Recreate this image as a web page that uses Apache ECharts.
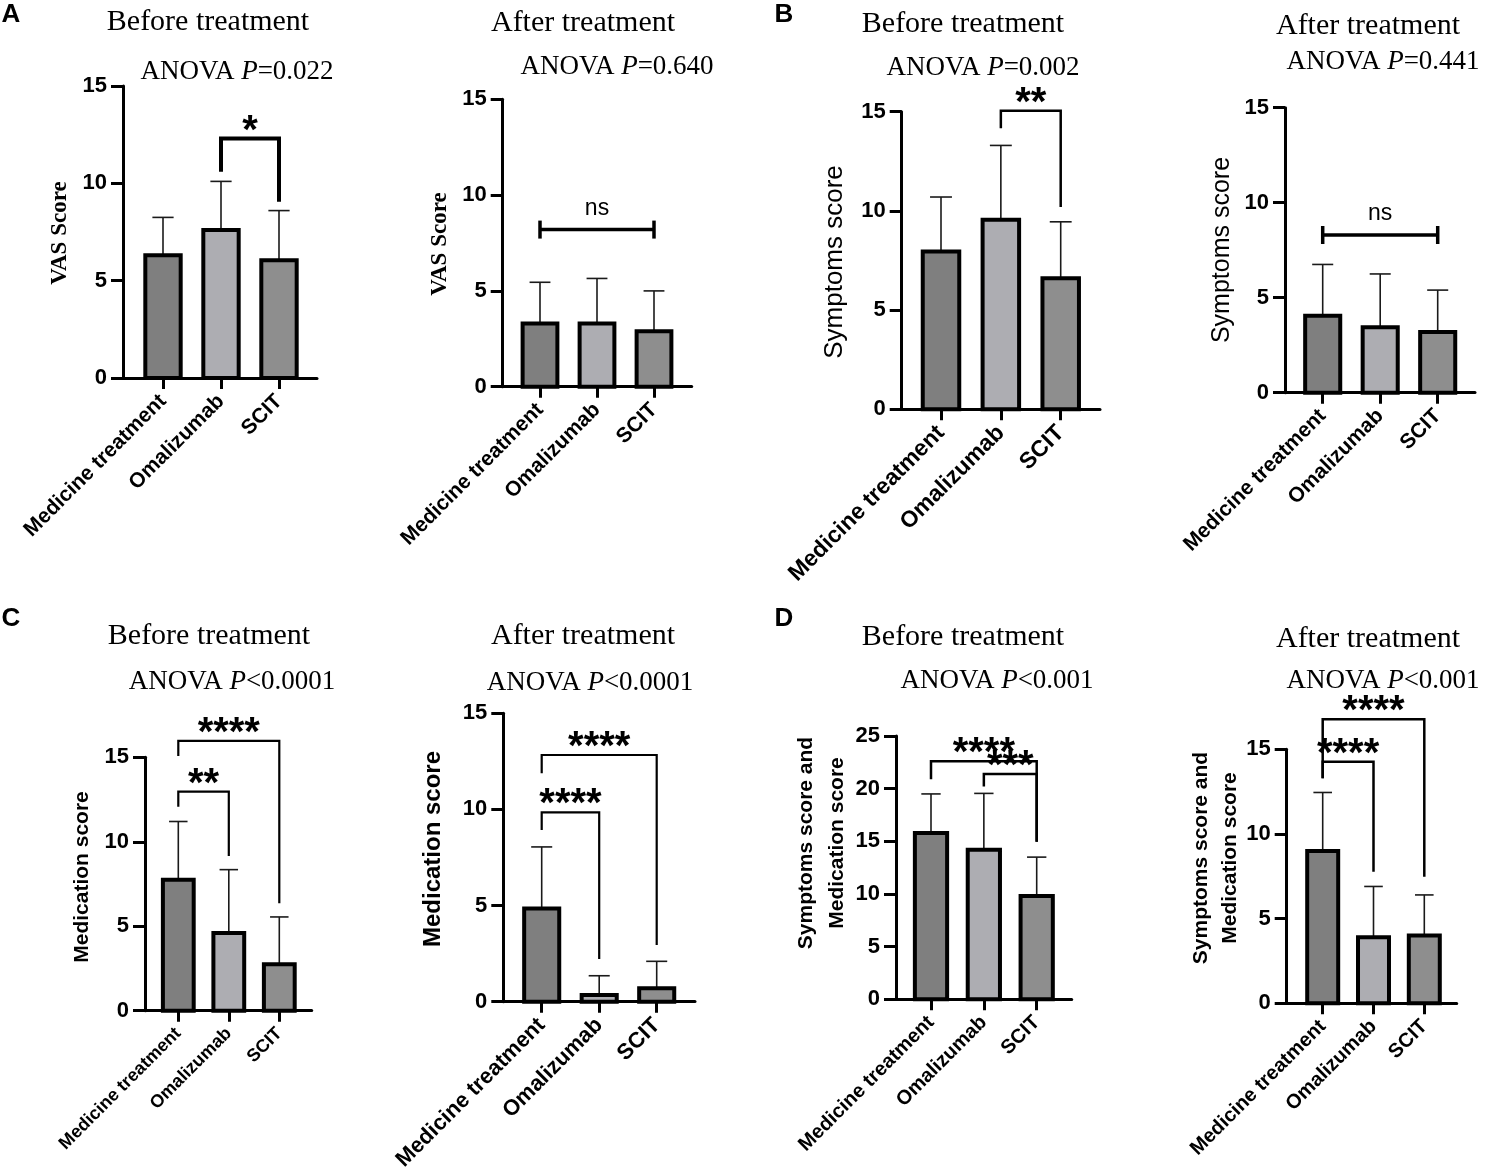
<!DOCTYPE html>
<html><head><meta charset="utf-8">
<script src="https://cdn.jsdelivr.net/npm/echarts@6/dist/echarts.min.js"></script>
<style>html,body{margin:0;padding:0;background:#fff}#c{width:1488px;height:1176px}</style>
</head><body><div id="c"></div>
<script>
// ---------- DATA ----------
const categories = ['Medicine treatment', 'Omalizumab', 'SCIT'];

const vasBeforeMean = [6.3, 7.6, 6.05];
const vasBeforeSD   = [1.95, 2.5, 2.55];
const vasAfterMean  = [3.3, 3.3, 2.9];
const vasAfterSD    = [2.15, 2.35, 2.1];

const symBeforeMean = [7.95, 9.55, 6.6];
const symBeforeSD   = [2.75, 3.75, 2.85];
const symAfterMean  = [4.05, 3.45, 3.2];
const symAfterSD    = [2.7, 2.8, 2.2];

const medBeforeMean = [7.75, 4.6, 2.75];
const medBeforeSD   = [3.45, 3.75, 2.8];
const medAfterMean  = [4.85, 0.35, 0.7];
const medAfterSD    = [3.2, 1.0, 1.4];

const totBeforeMean = [15.8, 14.2, 9.8];
const totBeforeSD   = [3.7, 5.35, 3.7];
const totAfterMean  = [9.0, 3.9, 4.0];
const totAfterSD    = [3.45, 3.0, 2.4];

// brackets: [fromIndex, toIndex, topValue, leftEndValue, rightEndValue, kind(0=bracket,1=ns bar)]
const vasBeforeBrackets = [[1, 2, 12.3, 10.6, 9.05, 0]];
const vasBeforeMarks    = ['*'];
const vasAfterBrackets  = [[0, 2, 8.2, 8.2, 8.2, 1]];
const vasAfterMarks     = ['ns'];
const symBeforeBrackets = [[1, 2, 15.05, 14.16, 10.2, 0]];
const symBeforeMarks    = ['**'];
const symAfterBrackets  = [[0, 2, 8.3, 8.3, 8.3, 1]];
const symAfterMarks     = ['ns'];
const medBeforeBrackets = [[0, 1, 12.97, 12.08, 9.16, 0], [0, 2, 15.97, 15.08, 6.36, 0]];
const medBeforeMarks    = ['**', '****'];
const medAfterBrackets  = [[0, 1, 9.85, 8.93, 2.22, 0], [0, 2, 12.83, 11.88, 2.95, 0]];
const medAfterMarks     = ['****', '****'];
const totBeforeBrackets = [[0, 2, 22.6, 20.9, 14.97, 0], [1, 2, 21.4, 20.2, 14.97, 0]];
const totBeforeMarks    = ['****', '***'];
const totAfterBrackets  = [[0, 1, 14.27, 13.29, 7.77, 0], [0, 2, 16.77, 13.29, 7.48, 0]];
const totAfterMarks     = ['****', '****'];

const yTicksMax15 = 15;
const yTicksMax25 = 25;

// ---------- STYLE / LAYOUT ----------
const barColors = ['#7f7f7f', '#adadb2', '#8e8e8e'];
const SANS = "'Liberation Sans', Arial, Helvetica, sans-serif";
const SERIF = "'Liberation Serif', 'Times New Roman', Times, serif";

const panels = [
  { mean: vasBeforeMean, sd: vasBeforeSD, br: vasBeforeBrackets, mk: vasBeforeMarks, ymax: yTicksMax15,
    L: 123, E: 317, T: 86, B: 378, c0: 163, sp: 58, xfs: 21, blw: 4 },
  { mean: vasAfterMean, sd: vasAfterSD, br: vasAfterBrackets, mk: vasAfterMarks, ymax: yTicksMax15,
    L: 502.7, E: 691.7, T: 99.3, B: 386.7, c0: 540, sp: 57, xfs: 21, blw: 3.5 },
  { mean: symBeforeMean, sd: symBeforeSD, br: symBeforeBrackets, mk: symBeforeMarks, ymax: yTicksMax15,
    L: 901.7, E: 1100, T: 111.7, B: 409.3, c0: 941, sp: 59.85, xfs: 23, blw: 2.5 },
  { mean: symAfterMean, sd: symAfterSD, br: symAfterBrackets, mk: symAfterMarks, ymax: yTicksMax15,
    L: 1285, E: 1475, T: 107.7, B: 392.7, c0: 1322.7, sp: 57.5, xfs: 21, blw: 3.5 },
  { mean: medBeforeMean, sd: medBeforeSD, br: medBeforeBrackets, mk: medBeforeMarks, ymax: yTicksMax15,
    L: 145, E: 311.7, T: 757.3, B: 1010.7, c0: 178.3, sp: 50.5, xfs: 18, blw: 2.2 },
  { mean: medAfterMean, sd: medAfterSD, br: medAfterBrackets, mk: medAfterMarks, ymax: yTicksMax15,
    L: 503.3, E: 695, T: 713.3, B: 1001.7, c0: 541.7, sp: 57.5, xfs: 22, blw: 2.2 },
  { mean: totBeforeMean, sd: totBeforeSD, br: totBeforeBrackets, mk: totBeforeMarks, ymax: yTicksMax25,
    L: 896, E: 1071.7, T: 736, B: 999.3, c0: 931, sp: 52.85, xfs: 20, blw: 2.5 },
  { mean: totAfterMean, sd: totAfterSD, br: totAfterBrackets, mk: totAfterMarks, ymax: yTicksMax15,
    L: 1286.7, E: 1456.7, T: 749.3, B: 1003.3, c0: 1322.7, sp: 50.8, xfs: 20, blw: 2.5 }
];

const grid = [], xAxis = [], yAxis = [], series = [];
panels.forEach((p, k) => {
  grid.push({ left: p.L, top: p.T, width: p.E - p.L, height: p.B - p.T, containLabel: false });
  xAxis.push({
    type: 'value', gridIndex: k,
    min: (p.L - p.c0) / p.sp, max: (p.E - p.c0) / p.sp,
    splitLine: { show: false },
    axisLine: { show: true, onZero: false, lineStyle: { color: '#000', width: 3 } },
    axisTick: { show: true, customValues: [0, 1, 2], length: 11, lineStyle: { color: '#000', width: 3 } },
    axisLabel: { show: true, customValues: [0, 1, 2], rotate: 45, margin: 20,
      formatter: v => categories[Math.round(v)] || '',
      fontFamily: SANS, fontWeight: 'bold', fontSize: p.xfs, color: '#000' }
  });
  yAxis.push({
    type: 'value', gridIndex: k, min: 0, max: p.ymax, interval: 5,
    splitLine: { show: false },
    axisLine: { show: true, onZero: false, lineStyle: { color: '#000', width: 3 } },
    axisTick: { show: true, length: 12, lineStyle: { color: '#000', width: 3 } },
    axisLabel: { show: true, margin: 16, fontFamily: SANS, fontWeight: 'bold', fontSize: 22, color: '#000' }
  });
  series.push({
    type: 'custom', xAxisIndex: k, yAxisIndex: k, clip: false,
    data: p.mean.map((m, i) => [i, m, p.sd[i]]),
    renderItem: (params, api) => {
      const i = api.value(0), m = api.value(1), s = api.value(2);
      const base = api.coord([i, 0]);
      const top = api.coord([i, m]);
      const err = api.coord([i, m + s]);
      const w = api.size([0.61, 0])[0];
      const cap = w * 0.3;
      return { type: 'group', children: [
        { type: 'line', shape: { x1: top[0], y1: top[1], x2: err[0], y2: err[1] },
          style: { stroke: '#1a1a1a', lineWidth: 1.6 } },
        { type: 'line', shape: { x1: err[0] - cap, y1: err[1], x2: err[0] + cap, y2: err[1] },
          style: { stroke: '#1a1a1a', lineWidth: 1.6 } },
        { type: 'rect', shape: { x: base[0] - w / 2, y: top[1], width: w, height: base[1] - top[1] },
          style: { fill: barColors[i], stroke: '#000', lineWidth: 4 } }
      ] };
    }
  });
  series.push({
    type: 'custom', xAxisIndex: k, yAxisIndex: k, clip: false, z: 5,
    data: p.br,
    renderItem: (params, api) => {
      const a = api.value(0), b = api.value(1), t = api.value(2), l = api.value(3), r = api.value(4), kind = api.value(5);
      const label = p.mk[params.dataIndex];
      const pA = api.coord([a, t]), pB = api.coord([b, t]);
      const lA = api.coord([a, l]), rB = api.coord([b, r]);
      const mx = (pA[0] + pB[0]) / 2;
      if (kind === 1) {
        const h = 9;
        return { type: 'group', children: [
          { type: 'polyline', shape: { points: [[pA[0], pA[1]], [pB[0], pB[1]]] }, style: { stroke: '#000', lineWidth: p.blw, fill: null } },
          { type: 'line', shape: { x1: pA[0], y1: pA[1] - h, x2: pA[0], y2: pA[1] + h }, style: { stroke: '#000', lineWidth: p.blw } },
          { type: 'line', shape: { x1: pB[0], y1: pB[1] - h, x2: pB[0], y2: pB[1] + h }, style: { stroke: '#000', lineWidth: p.blw } },
          { type: 'text', x: mx, y: pA[1] - 21, style: { text: label, font: '23px ' + SANS, fill: '#000', align: 'center', verticalAlign: 'middle' } }
        ] };
      }
      return { type: 'group', children: [
        { type: 'polyline', shape: { points: [[lA[0], lA[1]], [pA[0], pA[1]], [pB[0], pB[1]], [rB[0], rB[1]]] },
          style: { stroke: '#000', lineWidth: p.blw, fill: null, lineJoin: 'miter' } },
        { type: 'text', x: mx, y: pA[1] - 7, style: { text: label, font: 'bold 40px ' + SANS, fill: '#000', align: 'center', verticalAlign: 'middle' } }
      ] };
    }
  });
});

// ---------- TEXT ----------
const graphic = [];
function txt(text, x, y, font, opts) {
  graphic.push(Object.assign({ type: 'text', x: x, y: y, silent: true,
    style: { text: text, font: font, fill: '#000', align: 'center', verticalAlign: 'middle' } }, opts || {}));
}
function anova(x, y, op, val) {
  graphic.push({ type: 'text', x: x, y: y, silent: true,
    style: { text: '{n|ANOVA }{i|P}{n|' + op + val + '}', align: 'center', verticalAlign: 'middle', fill: '#000',
      rich: { n: { font: '27px ' + SERIF, fill: '#000' }, i: { font: 'italic 27px ' + SERIF, fill: '#000' } } } });
}
const panelLetters = [['A', 11, 15], ['B', 784, 15], ['C', 11, 619], ['D', 784, 619]];
panelLetters.forEach(l => txt(l[0], l[1], l[2], 'bold 26px ' + SANS));

const TF = '30px ' + SERIF;
txt('Before treatment', 208, 22, TF); anova(237, 72, '=', '0.022');
txt('After treatment', 583, 23, TF);  anova(617, 67, '=', '0.640');
txt('Before treatment', 963, 24, TF); anova(983, 68, '=', '0.002');
txt('After treatment', 1368, 26, TF); anova(1383, 62, '=', '0.441');
txt('Before treatment', 209, 636, TF); anova(232, 682, '<', '0.0001');
txt('After treatment', 583, 636, TF);  anova(590, 683, '<', '0.0001');
txt('Before treatment', 963, 637, TF); anova(997, 681, '<', '0.001');
txt('After treatment', 1368, 639, TF); anova(1383, 681, '<', '0.001');

const R = { rotation: Math.PI / 2 };
txt('VAS Score', 60, 233, 'bold 23px ' + SERIF, R);
txt('VAS Score', 440, 244, 'bold 23px ' + SERIF, R);
txt('Symptoms score', 835, 262, '26px ' + SANS, R);
txt('Symptoms score', 1222, 250, '25px ' + SANS, R);
txt('Medication score', 82, 877, 'bold 21px ' + SANS, R);
txt('Medication score', 433, 849, 'bold 24px ' + SANS, R);
graphic.push({ type: 'text', x: 822, y: 843, rotation: Math.PI / 2, silent: true,
  style: { text: 'Symptoms score and\nMedication score', font: 'bold 21px ' + SANS, lineHeight: 31, fill: '#000', align: 'center', verticalAlign: 'middle' } });
graphic.push({ type: 'text', x: 1216, y: 858, rotation: Math.PI / 2, silent: true,
  style: { text: 'Symptoms score and\nMedication score', font: 'bold 21px ' + SANS, lineHeight: 29, fill: '#000', align: 'center', verticalAlign: 'middle' } });

const chart = echarts.init(document.getElementById('c'), null, { renderer: 'canvas' });
chart.setOption({ animation: false, backgroundColor: '#fff', grid, xAxis, yAxis, series, graphic });
</script>
</body></html>
